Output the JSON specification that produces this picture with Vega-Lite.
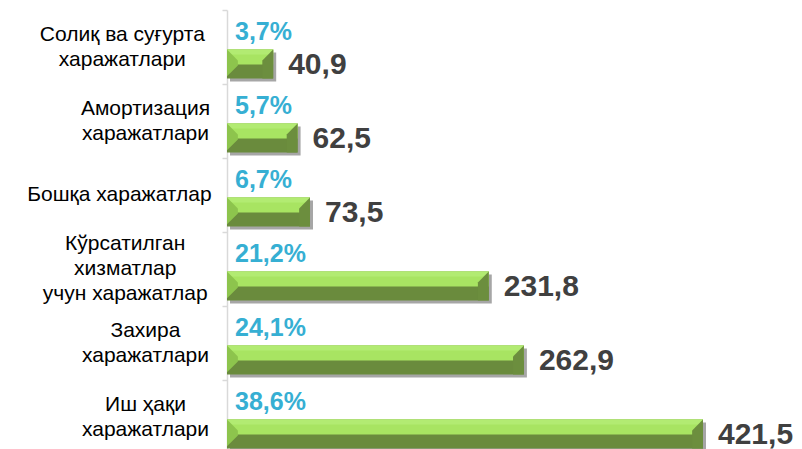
{
  "$schema": "https://vega.github.io/schema/vega-lite/v6.json",
  "autosize": {"type": "none"},
  "width": 476,
  "height": 439,
  "padding": {"left": 227, "top": 10, "right": 99, "bottom": 0},
  "config": {"view": {"stroke": null}, "font": "Liberation Sans"},
  "data": {"values": [
    {"cat": "Солиқ ва суғурта|харажатлари", "value": 40.9, "label": "40,9", "pct": "3,7%"},
    {"cat": "Амортизация|харажатлари", "value": 62.5, "label": "62,5", "pct": "5,7%"},
    {"cat": "Бошқа харажатлар", "value": 73.5, "label": "73,5", "pct": "6,7%"},
    {"cat": "Кўрсатилган|хизматлар|учун харажатлар", "value": 231.8, "label": "231,8", "pct": "21,2%"},
    {"cat": "Захира|харажатлари", "value": 262.9, "label": "262,9", "pct": "24,1%"},
    {"cat": "Иш ҳақи|харажатлари", "value": 421.5, "label": "421,5", "pct": "38,6%"}
  ]},
  "encoding": {
    "y": {
      "field": "cat", "type": "nominal", "sort": null,
      "scale": {"range": [0, 444], "paddingInner": 0, "paddingOuter": 0},
      "axis": {
        "title": null, "labels": false,
        "domainColor": "#D9D9D9", "domainWidth": 1.5,
        "tickColor": "#D9D9D9", "tickSize": 5, "tickWidth": 1.5, "tickBand": "extent"
      }
    }
  },
  "layer": [
    {
      "mark": {"type": "bar", "color": "#A6A6A6", "height": 29, "yOffset": 20, "xOffset": 3, "x2Offset": 3},
      "encoding": {"x": {"field": "value", "type": "quantitative", "scale": {"domain": [0, 421.5], "nice": false, "zero": true}, "axis": null}}
    },
    {
      "mark": {"type": "bar", "color": "#6A8B3D", "height": 29, "yOffset": 17},
      "encoding": {"x": {"field": "value", "type": "quantitative"}}
    },
    {
      "mark": {"type": "bar", "color": "#A8E462", "height": 15, "yOffset": 10},
      "encoding": {"x": {"field": "value", "type": "quantitative"}}
    },
    {
      "mark": {"type": "bar", "color": "#B2EB72", "height": 5, "yOffset": 5},
      "encoding": {"x": {"field": "value", "type": "quantitative"}}
    },
    {
      "mark": {"type": "point", "shape": "M0,-1L0.75,-0.25L0.75,0.1L0,0.85Z", "size": 841, "filled": true, "opacity": 1, "color": "#8DC44D", "strokeWidth": 0, "yOffset": 17},
      "encoding": {"x": {"datum": 0, "type": "quantitative"}}
    },
    {
      "mark": {"type": "point", "shape": "M0,-1L-0.75,-0.25L-0.75,1L0,1Z", "size": 841, "filled": true, "opacity": 1, "color": "#6C8E3E", "strokeWidth": 0, "yOffset": 17},
      "encoding": {"x": {"field": "value", "type": "quantitative"}}
    },
    {
      "mark": {
        "type": "text", "align": "center", "baseline": "middle", "lineBreak": "|", "lineHeight": 25,
        "fontSize": 21, "color": "#000000",
        "dx": {"expr": "-18 - 0.5*max(5.84*length(split(datum.cat,'|')[0] || '') + 5.71*length(replace(split(datum.cat,'|')[0] || '', regexp(' ','g'), '')), 5.84*length(split(datum.cat,'|')[1] || '') + 5.71*length(replace(split(datum.cat,'|')[1] || '', regexp(' ','g'), '')), 5.84*length(split(datum.cat,'|')[2] || '') + 5.71*length(replace(split(datum.cat,'|')[2] || '', regexp(' ','g'), '')))"},
        "dy": {"expr": "-12.5*(length(split(datum.cat,'|'))-1)"}
      },
      "encoding": {"x": {"datum": 0, "type": "quantitative"}, "text": {"field": "cat"}}
    },
    {
      "mark": {"type": "text", "align": "left", "baseline": "middle", "dx": 8, "dy": -15, "fontSize": 25, "fontWeight": "bold", "color": "#36AFD3"},
      "encoding": {"x": {"datum": 0, "type": "quantitative"}, "text": {"field": "pct"}}
    },
    {
      "mark": {"type": "text", "align": "left", "baseline": "middle", "dx": 15, "dy": 18, "fontSize": 30, "fontWeight": "bold", "color": "#404040"},
      "encoding": {"x": {"field": "value", "type": "quantitative"}, "text": {"field": "label"}}
    }
  ]
}
